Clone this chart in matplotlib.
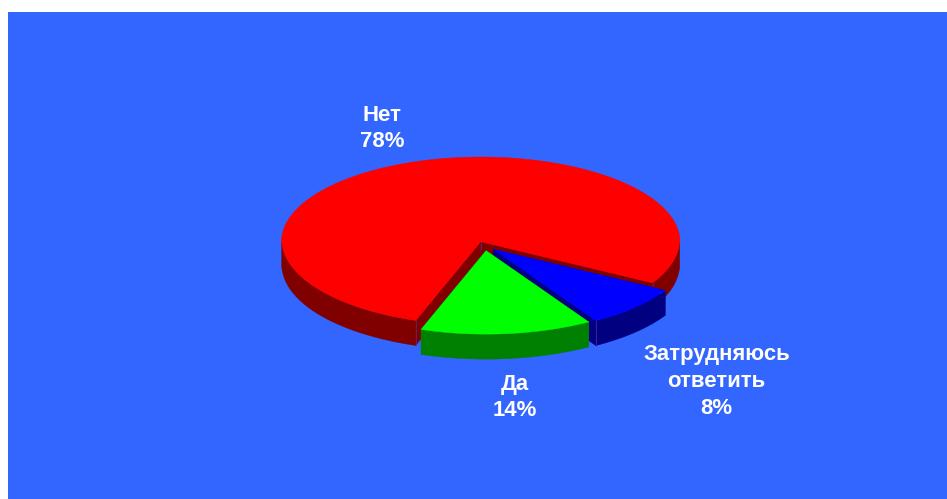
import numpy as np
import matplotlib
matplotlib.use("Agg")
import matplotlib.pyplot as plt
from matplotlib.patches import Polygon, Rectangle

# Data (shares; labels show them rounded)
labels = ["Нет", "Затрудняюсь\nответить", "Да"]
values = [77.8, 8.1, 14.1]

# Styles
top_colors = ["#FF0000", "#0000FF", "#00FF00"]
side_colors = ["#800000", "#000080", "#008000"]
seam = "#5A2A90"
bg = "#3366FF"
W, H = 947, 499
CX, CY, RX, RY, DEPTH = 480.7, 241.7, 199.3, 84.7, 25.0
START = -29.4            # degrees; red begins here and runs anticlockwise
offsets = [(0, 0), (12.6, 7.6), (5.4, 9.0)]
label_pos = [(382, 128), (716.5, 381), (514.5, 396)]

fig = plt.figure(figsize=(W / 100, H / 100), dpi=100, facecolor="white")
ax = fig.add_axes([0, 0, 1, 1])
ax.set_xlim(0, W)
ax.set_ylim(H, 0)
ax.axis("off")
ax.add_patch(Rectangle((8, 12), W - 8, H - 12, fc=bg, ec="none", zorder=0))


def ell(theta, ox, oy):
    t = np.radians(theta)
    # the front of the rim sits slightly inside a true ellipse (view foreshortening)
    front = 1 - 0.015 * np.sqrt(np.clip(-np.sin(t), 0, 1))
    return np.column_stack([CX + ox + RX * front * np.cos(t),
                            CY + oy - RY * front * np.sin(t)])


def poly(pts, color, z):
    ax.add_patch(Polygon(pts, closed=True, fc=color, ec=color, lw=0.3, zorder=z))


sweeps = [v / sum(values) * 360 for v in values]
spans = [(START, START + sweeps[0])]
a = START
for s in sweeps[1:]:
    spans.append((a - s, a))
    a -= s

for i, ((a0, a1), (ox, oy)) in enumerate(zip(spans, offsets)):
    z = 2 + i * 3
    th = np.linspace(a0, a1, 400)
    apex = np.array([[CX + ox, CY + oy]])
    shift = np.array([[0, DEPTH]])

    # outer wall: only the front (lower) part of the rim is visible
    idx = np.flatnonzero(np.sin(np.radians(th)) <= 0)
    groups = np.split(idx, np.flatnonzero(np.diff(idx) > 1) + 1)
    for g in groups:
        rim = ell(th[g], ox, oy)
        poly(np.vstack([rim, rim[::-1] + shift]), side_colors[i], z)

    # cut faces
    for ang in (a0, a1):
        end = ell(np.array([ang]), ox, oy)
        poly(np.vstack([apex, end, end + shift, apex + shift]), side_colors[i], z)
        # faint vertical seams where a visible cut face meets the wall
        if i == 0 or (i == 1 and ang == a0):
            ax.plot([end[0, 0]] * 2, [end[0, 1], end[0, 1] + DEPTH],
                    color=seam, lw=0.5, zorder=z + 0.5)
    if i == 0:
        ax.plot([apex[0, 0]] * 2, [apex[0, 1], apex[0, 1] + 8],
                color=seam, lw=0.5, zorder=z + 0.5)

    # top face
    poly(np.vstack([apex, ell(th, ox, oy)]), top_colors[i], z + 1)

for lab, v, (x, y), dy in zip(labels, values, label_pos, (0.5, 0.5, 1.5)):
    ax.text(x, y + dy, f"{lab}\n{v:.0f}%", ha="center", va="center", color="white",
            fontsize=15.9, fontweight="bold", family="Liberation Sans",
            linespacing=1.35, zorder=20)

fig.savefig("out.png", dpi=100, facecolor="white")
